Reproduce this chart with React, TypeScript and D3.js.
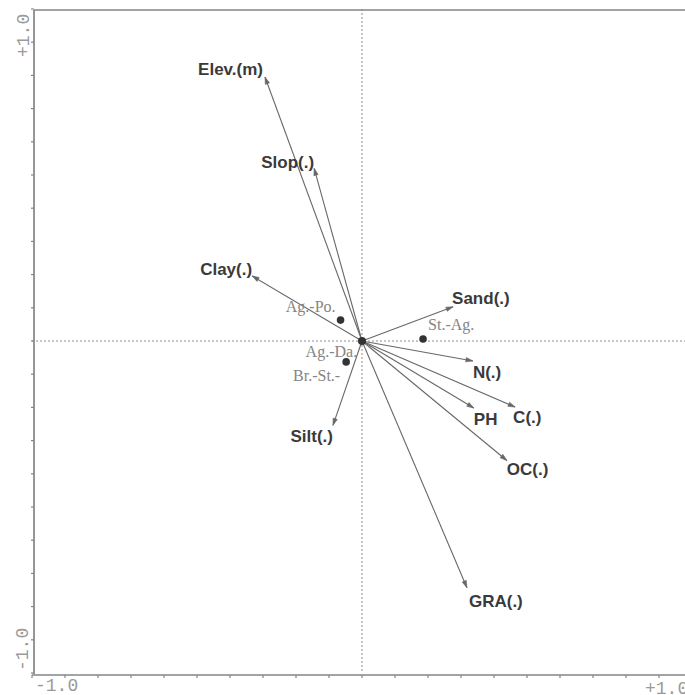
import React from "react";
import * as d3 from "d3";

// Environmental variables (biplot arrow tips, CCA axis 1 / axis 2)
const envNames = ["Elev.(m)", "Slop(.)", "Clay(.)", "Sand(.)", "N(.)", "C(.)", "PH", "OC(.)", "GRA(.)", "Silt(.)"];
const envAxis1 = [-0.294, -0.145, -0.333, 0.276, 0.336, 0.464, 0.339, 0.439, 0.318, -0.088];
const envAxis2 = [0.795, 0.520, 0.196, 0.103, -0.060, -0.199, -0.202, -0.360, -0.743, -0.254];

// Community / site scores
const siteNames = ["Ag.-Po.", "St.-Ag.", "Ag.-Da.", "Br.-St.-"];
const siteAxis1 = [-0.065, 0.185, -0.048, 0.002];
const siteAxis2 = [0.063, 0.006, -0.063, -0.003];

// Axis end labels
const axisLabels = ["-1.0", "+1.0"];
const tickValues = d3.range(-10, 11).map((i) => i / 10);

// Label placement relative to each arrow tip: [dx, dy, anchor]
const envLabelLayout: Record<string, [number, number, string]> = {
  "Elev.(m)": [-2, -2, "end"],
  "Slop(.)": [0, 0, "end"],
  "Clay(.)": [0, -1, "end"],
  "Sand(.)": [-1, -3, "start"],
  "N(.)": [0, 17, "start"],
  "C(.)": [-2, 16, "start"],
  "PH": [0, 17, "start"],
  "OC(.)": [0, 14, "start"],
  "GRA(.)": [2, 19, "start"],
  "Silt(.)": [0, 17, "end"],
};

const siteLabelLayout: Record<string, [number, number, string]> = {
  "Ag.-Po.": [-5, -8, "end"],
  "St.-Ag.": [5, -9, "start"],
  "Ag.-Da.": [11, -5, "end"],
  "Br.-St.-": [-6, 19, "end"],
};

const W = 685;
const H = 695;

export default function App() {
  const x = d3.scaleLinear().domain([-1, 1]).range([32, 692]);
  const y = d3.scaleLinear().domain([-1, 1]).range([673, 9]);
  const x0 = x(0);
  const y0 = y(0);

  const frame = "#858585";
  const arrowColor = "#686868";

  const env = envNames.map((name, i) => ({ name, px: x(envAxis1[i]), py: y(envAxis2[i]) }));
  const sites = siteNames.map((name, i) => ({ name, px: x(siteAxis1[i]), py: y(siteAxis2[i]) }));

  const arrowHead = (tx: number, ty: number) => {
    const ang = Math.atan2(ty - y0, tx - x0);
    const len = 7;
    const half = 2.2;
    const bx = tx - len * Math.cos(ang);
    const by = ty - len * Math.sin(ang);
    const nx = -Math.sin(ang) * half;
    const ny = Math.cos(ang) * half;
    return `M${tx},${ty}L${bx + nx},${by + ny}L${bx - nx},${by - ny}Z`;
  };

  return (
    <svg
      width={W}
      height={H}
      style={{ position: "absolute", left: 0, top: 0, background: "#fff" }}
    >
      {/* dotted zero lines */}
      <line x1={x(-1)} x2={W} y1={y0} y2={y0} stroke="#8c8c8c" strokeWidth={1} strokeDasharray="2,2" />
      <line x1={x0} x2={x0} y1={y(1)} y2={y(-1)} stroke="#8c8c8c" strokeWidth={1} strokeDasharray="2,2" />

      {/* frame */}
      <line x1={x(-1) + 2} x2={x(-1) + 2} y1={y(1) + 1} y2={y(-1) + 1} stroke={frame} strokeWidth={1.7} />
      <line x1={x(-1) + 2} x2={W} y1={y(1) + 1} y2={y(1) + 1} stroke={frame} strokeWidth={1.6} />
      <line x1={x(-1)} x2={W} y1={y(-1) + 2} y2={y(-1) + 2} stroke={frame} strokeWidth={1.6} />

      {/* ticks */}
      {tickValues.map((t) => (
        <line key={"ly" + t} x1={x(-1) - 1} x2={x(-1) + 2} y1={y(t)} y2={y(t)} stroke={frame} strokeWidth={1.2} />
      ))}
      {tickValues.map((t) => (
        <line key={"bx" + t} x1={x(t)} x2={x(t)} y1={y(-1) + 2} y2={y(-1) + 5} stroke={frame} strokeWidth={1.2} />
      ))}

      {/* axis end labels */}
      <g fontFamily="'Liberation Mono', 'DejaVu Sans Mono', monospace" fontSize={18} fill="#9a9a9a">
        <text x={x(-1) + 3} y={691}>{axisLabels[0]}</text>
        <text x={x(1) - 47} y={694}>{axisLabels[1]}</text>
        <text transform={`translate(${x(-1) - 3},${y(1) + 48}) rotate(-90)`}>{axisLabels[1]}</text>
        <text transform={`translate(${x(-1) - 4},${y(-1) - 2}) rotate(-90)`}>{axisLabels[0]}</text>
      </g>

      {/* environmental arrows */}
      {env.map((d) => (
        <g key={d.name}>
          <line x1={x0} y1={y0} x2={d.px} y2={d.py} stroke={arrowColor} strokeWidth={1.1} />
          <path d={arrowHead(d.px, d.py)} fill={arrowColor} stroke={arrowColor} strokeWidth={0.6} />
        </g>
      ))}

      {/* origin */}
      <circle cx={x0} cy={y0} r={4} fill="#333" />

      {/* site points */}
      {sites.map((d) =>
        d.name === "Br.-St.-" ? null : <circle key={d.name} cx={d.px} cy={d.py} r={3.8} fill="#333" />
      )}
      <g fontFamily="'Liberation Serif', 'DejaVu Serif', serif" fontSize={16} fill="#858585">
        {sites.map((d) => {
          const [dx, dy, anchor] = siteLabelLayout[d.name];
          const ref = d.name === "Br.-St.-" ? sites[2] : d;
          return (
            <text key={d.name} x={ref.px + dx} y={ref.py + dy} textAnchor={anchor as any}>
              {d.name}
            </text>
          );
        })}
      </g>

      {/* environmental labels */}
      <g fontFamily="'Liberation Sans', Arial, sans-serif" fontWeight="bold" fontSize={17} fill="#3a3a3a">
        {env.map((d) => {
          const [dx, dy, anchor] = envLabelLayout[d.name];
          return (
            <text key={d.name} x={d.px + dx} y={d.py + dy} textAnchor={anchor as any}>
              {d.name}
            </text>
          );
        })}
      </g>
    </svg>
  );
}
